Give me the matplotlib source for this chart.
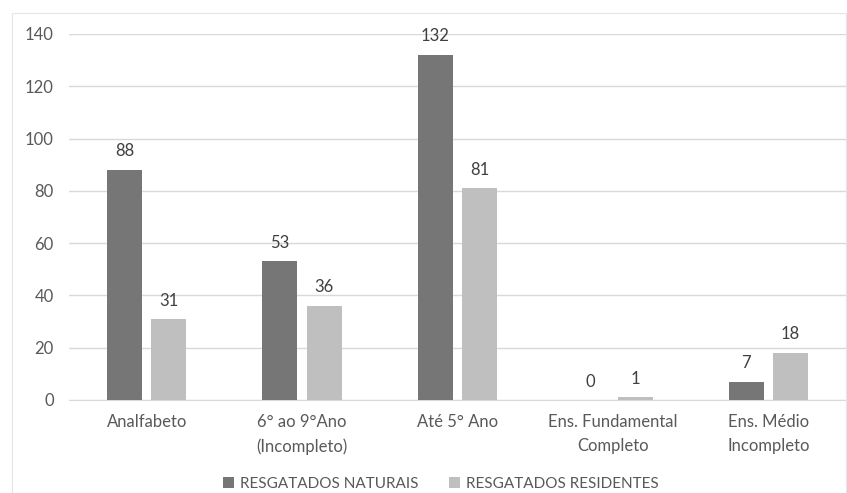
import matplotlib
matplotlib.use("Agg")
import matplotlib.pyplot as plt
import numpy as np
from matplotlib.patches import Rectangle

categories = ["Analfabeto", "6° ao 9°Ano\n(Incompleto)", "Até 5° Ano",
              "Ens. Fundamental\nCompleto", "Ens. Médio\nIncompleto"]
naturais = [88, 53, 132, 0, 7]
residentes = [31, 36, 81, 1, 18]
series_names = ["RESGATADOS NATURAIS", "RESGATADOS RESIDENTES"]
yticks = [0, 20, 40, 60, 80, 100, 120, 140]

plt.rcParams['font.family'] = ['Lato', 'DejaVu Sans']

W, H = 847, 493
fig = plt.figure(figsize=(W / 100, H / 100), dpi=100)
fig.patch.set_facecolor("white")

# outer chart frame
fig.patches.append(Rectangle((12 / W, 0), (W - 13) / W, 1 - 13 / H,
                             transform=fig.transFigure, fill=False,
                             edgecolor="#e6e6e6", linewidth=0.8))

ax = fig.add_axes([69 / W, 1 - 400 / H, (846 - 69) / W, (400 - 34) / H])

x = np.arange(len(categories))
bw = 0.225
off = 0.143
dark, light = "#767676", "#bfbfbf"
b1 = ax.bar(x - off, naturais, bw, color=dark, label=series_names[0], zorder=3)
b2 = ax.bar(x + off, residentes, bw, color=light, label=series_names[1], zorder=3)

txt = "#404040"
for bars, vals in ((b1, naturais), (b2, residentes)):
    for r, v in zip(bars, vals):
        ax.text(r.get_x() + r.get_width() / 2, v + 4, str(v), ha="center",
                va="bottom", fontsize=12, color=txt)

ax.set_xlim(-0.5, len(categories) - 0.5)
ax.set_ylim(0, 140)
ax.set_yticks(yticks)
ax.yaxis.grid(True, color="#d9d9d9", linewidth=1, zorder=0)
ax.set_axisbelow(True)
for s in ("top", "right", "left"):
    ax.spines[s].set_visible(False)
ax.spines["bottom"].set_color("#d9d9d9")
ax.tick_params(axis="both", length=0, labelsize=12, colors="#595959")
ax.tick_params(axis="y", pad=11)
ax.tick_params(axis="x", pad=10)
ax.set_xticks(x)
ax.set_xticklabels(categories, fontsize=12, color="#595959", linespacing=1.6)

fig.legend(handles=[b1, b2], labels=series_names, loc="center",
           bbox_to_anchor=(441 / W, 1 - 484 / H),
           ncol=2, frameon=False, fontsize=11, labelcolor="#595959",
           handlelength=0.7, handleheight=0.7, handletextpad=0.4,
           columnspacing=2.0)

fig.savefig("out.png", dpi=100, facecolor="white")
